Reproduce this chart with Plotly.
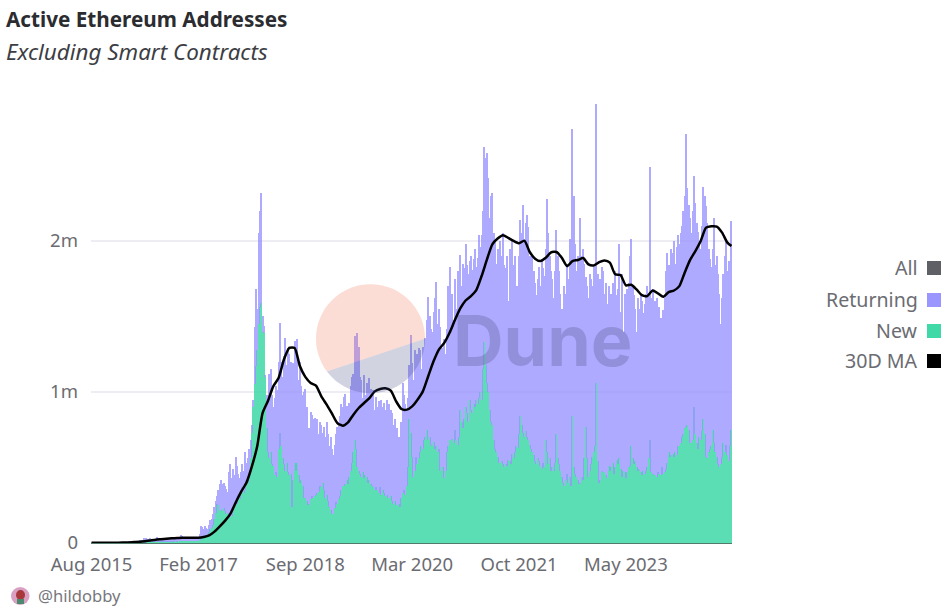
import numpy as np
import pandas as pd
import plotly.graph_objects as go

# weekly active addresses, thousands
all_addresses = [
    1,1,1,1,1,2,2,2,2,2, 2,3,3,3,3,4,4,3,4,4, 4,4,5,5,5,6,6,6,7,10,
    9,10,9,12,14,15,20,22,20,32, 18,34,24,20,30,22,20,24,22,40, 36,28,24,26,28,28,26,27,28,28,
    28,30,30,30,28,30,30,52,44,30, 30,30,32,32,30,30,30,30,32,34, 34,60,110,105,95,110,100,90,120,150,
    160,190,240,280,310,350,390,420,390,400, 380,360,340,470,520,430,490,450,570,510, 460,430,470,520,480,600,530,560,620,680,
    780,950,1430,1680,1550,2050,2200,2320,1500,1440, 1110,980,930,1120,1150,980,900,960,1040,1010, 1200,1460,1200,1100,1240,1360,1180,1290,1250,1200,
    730,1190,1340,1320,1350,1080,1200,1040,980,1000, 1020,900,730,760,870,850,820,830,790,820, 720,800,780,730,770,700,800,720,640,700,
    620,580,650,720,770,800,840,920,900,970, 990,910,880,930,1040,1100,1120,1370,1240,1390, 1300,1100,1080,960,1110,980,1060,950,1090,1020,
    920,1010,880,970,900,940,880,950,900,930, 880,950,820,920,880,860,780,820,700,760, 700,690,800,1060,980,920,880,960,1180,1380,
    1190,1080,1280,1130,1250,1290,1280,1150,1300,1270, 1360,1480,1630,1500,1420,1400,1530,1620,1730,1450, 1550,1430,1290,1190,1350,1250,1420,1700,1830,1620,
    1650,1480,1750,1550,1800,1780,1910,1700,1850,1820, 1980,1840,1780,1870,1900,1810,1880,1950,1830,1890, 2040,1960,2040,2200,2620,2550,2580,2420,2150,2300,
    2320,2050,2000,1850,1950,1780,2000,1900,2050,1840, 1820,1900,1600,1950,1770,2000,1840,1900,1700,1700, 1900,2140,2050,2240,2000,2120,2170,2090,1900,1850,
    1900,1800,1720,1640,1750,1830,1700,1880,1820,1770, 1950,2280,2050,1900,1800,1750,1620,1800,2070,1900, 1800,1650,1550,1430,1700,1650,1830,1750,2010,1700,
    2740,2300,1980,1800,1900,1850,2150,1900,1950,1850, 1760,1700,1620,1780,1750,1700,1830,1750,2910,1780, 1440,1750,1830,1800,1650,1720,1580,1700,1600,1650,
    1720,1580,1800,1640,1680,1980,1530,1780,1400,1650, 1500,1680,1720,1900,2010,1700,1640,1550,1400,1620, 1550,1650,1600,1520,1580,1650,1700,1640,2490,1620,
    1680,1560,1600,1620,1480,1560,1490,1400,1540,1620, 1800,1920,1840,1780,1950,1920,2000,1850,1960,2040, 1980,2050,2100,2200,2300,2710,2350,2240,2150,2050,
    2200,2430,2250,2120,2060,2000,1950,2100,2360,2300, 2230,2120,1950,1880,1830,1950,2150,1840,1900,1780, 1650,1450,1620,1780,1900,2010,1800,1870,1800,2130,
]
new_addresses = [
    0,0,0,0,0,1,1,1,1,1, 1,1,1,1,1,1,1,1,1,1, 1,2,2,2,2,2,2,2,3,3,
    3,4,4,5,5,5,6,7,6,8, 6,8,7,7,8,7,7,8,7,10, 9,8,8,8,8,9,8,8,9,9,
    9,9,9,10,9,10,10,12,10,10, 10,10,11,11,10,10,10,11,12,12, 13,20,35,35,40,45,50,60,75,90,
    100,120,160,200,260,250,220,220,210,230, 210,190,200,190,170,180,210,230,280,260, 300,290,330,370,330,350,420,400,450,560,
    730,900,1050,1170,1280,1450,1560,1590,1400,1390, 1100,760,600,560,600,520,510,450,470,440, 620,730,640,560,520,480,530,470,450,460,
    240,420,530,480,530,450,400,420,380,300, 300,280,250,260,290,310,300,310,320,330, 340,380,370,400,350,300,320,280,240,220,
    190,190,230,270,260,290,310,350,380,380, 390,420,390,440,480,530,600,680,620,500, 480,460,440,470,430,450,440,400,420,390,
    380,370,350,370,350,330,370,320,350,330, 310,320,300,300,310,280,260,280,250,250, 260,240,300,330,350,320,380,500,820,730,
    570,440,480,570,520,560,600,640,620,680, 700,750,680,700,650,640,670,620,640,600, 620,480,500,500,430,480,600,640,680,680,
    690,660,750,680,650,700,880,800,760,820, 900,860,800,950,880,860,920,900,950,920, 960,1000,950,1150,1330,1180,1060,1000,880,800,
    780,680,620,600,570,530,530,540,520,500, 520,510,550,540,520,590,560,600,640,630, 720,840,780,730,700,740,700,680,650,620,
    600,580,540,520,560,540,510,490,530,500, 680,600,520,560,480,500,480,530,720,560, 520,480,440,400,380,420,460,400,440,380,
    840,500,460,440,420,390,400,440,420,560, 770,560,440,480,520,570,600,640,1060,540, 400,420,480,470,470,450,430,510,480,500,
    530,460,500,550,520,560,490,440,480,470, 430,470,500,510,640,560,520,540,500,480, 490,470,450,480,460,480,500,560,680,470,
    460,450,450,440,470,460,450,500,460,470, 490,530,600,570,580,590,570,600,580,640, 640,660,700,720,760,770,780,750,660,660,
    680,900,720,660,620,700,680,740,820,720, 570,560,600,620,640,750,660,600,570,520, 500,520,570,660,600,650,580,540,640,750,
]
# 30D MA, thousands, read every 4th week plus the last one
ma_30d = [
    1,1,1,1,2,2,3,4,6,8, 12,17,22,25,28,31,33,35,35,35, 35,40,50,75,110,148,195,270,340,400,
    507,640,860,940,1037,1093,1215,1292,1292,1170, 1100,1060,1042,971,916,856,794,777,799,850,
    894,927,960,1004,1020,1024,1009,938,887,883, 905,949,1004,1104,1203,1281,1325,1392,1476,1553,
    1606,1635,1675,1768,1878,1978,2016,2038,2020,2000, 1985,2002,1927,1883,1867,1889,1925,1927,1889,1834,
    1867,1874,1887,1845,1838,1860,1871,1856,1779,1774, 1706,1710,1679,1641,1635,1672,1653,1630,1661,1672,
    1701,1790,1873,1933,2000,2088,2097,2095,2055,1989, 1967,
]
tick_labels = ['Aug 2015', 'Feb 2017', 'Sep 2018', 'Mar 2020', 'Oct 2021', 'May 2023']
y_ticks = [0, 1000, 2000]
y_labels = ['0', '1m', '2m']
legend_items = ['All', 'Returning', 'New', '30D MA']
legend_colors = ['#5f6066', '#9b95ff', '#3fd9a8', '#000000']

assert len(all_addresses) == len(new_addresses) == 480

weeks = pd.date_range('2015-08-03', periods=480, freq='7D')
ma_weeks = list(weeks[::4]) + [weeks[-1]]
returning = np.array(all_addresses) - np.array(new_addresses)

# plot area in page pixels
L, R, T, B = 91, 732, 104, 543
FONT = 'Noto Sans'
GREY = '#6b6c72'


def px(x):
    return (x - L) / (R - L)


def py(y):
    return (B - y) / (B - T)


def arc_path(cx, cy, r, a0, a1):
    # closed circular segment in paper coords, angles in screen degrees
    t = np.radians(np.linspace(a0, a1, 60))
    pts = [f'{px(cx + r * np.cos(a)):.5f},{py(cy + r * np.sin(a)):.5f}' for a in t]
    return 'M' + ' L'.join(pts) + ' Z'


fig = go.Figure()
week_ms = 7 * 24 * 3600 * 1000

fig.add_trace(go.Bar(x=weeks, y=new_addresses, name='New', width=week_ms * 0.8,
                     marker=dict(color='#3fd9a8', line_width=0), opacity=0.85))
fig.add_trace(go.Bar(x=weeks, y=returning, name='Returning', width=week_ms * 0.8,
                     marker=dict(color='#9b95ff', line_width=0), opacity=0.8))
fig.add_trace(go.Scatter(x=ma_weeks, y=ma_30d, name='30D MA', mode='lines',
                         line=dict(color='#000000', width=2.5, shape='spline', smoothing=0.6)))

shapes = [
    # watermark
    dict(type='path', xref='paper', yref='paper', layer='above', line_width=0,
         fillcolor='rgba(243,120,90,0.25)', path=arc_path(370.5, 338.7, 54.5, 143, 360)),
    dict(type='path', xref='paper', yref='paper', layer='above', line_width=0,
         fillcolor='rgba(60,65,125,0.23)', path=arc_path(370.5, 338.7, 54.5, 0, 143)),
    # avatar
    dict(type='circle', xref='paper', yref='paper', line_width=0, fillcolor='#d9a0c4',
         x0=px(11), x1=px(29.5), y0=py(605), y1=py(587)),
    dict(type='circle', xref='paper', yref='paper', line_width=0, fillcolor='#a8383c',
         x0=px(16), x1=px(25), y0=py(600), y1=py(590)),
    dict(type='rect', xref='paper', yref='paper', line_width=0, fillcolor='#4c8a70',
         x0=px(17), x1=px(24), y0=py(604), y1=py(599)),
]
annotations = [
    dict(text='<b>Active Ethereum Addresses</b>', x=px(4), y=py(19), xanchor='left', yanchor='middle',
         font=dict(size=20.7, color='#2b2c30', family=FONT)),
    dict(text='<i>Excluding Smart Contracts</i>', x=px(4), y=py(52), xanchor='left', yanchor='middle',
         font=dict(size=22.4, color='#3d3e44', family=FONT)),
    dict(text='<b>Dune</b>', x=px(542), y=py(340), xanchor='center', yanchor='middle',
         font=dict(size=70, color='rgba(60,60,100,0.23)', family='Inter')),
    dict(text='@hildobby', x=px(36), y=py(595), xanchor='left', yanchor='middle',
         font=dict(size=16.6, color='#77787e', family=FONT)),
]

# legend sits right of the plot with the swatch after the text
legend_y = [267, 299, 330, 360]
for name, colour, y in zip(legend_items, legend_colors, legend_y):
    annotations.append(dict(text=name, x=px(920.5), y=py(y), xanchor='right', yanchor='middle',
                            font=dict(size=19.6, color=GREY, family=FONT)))
    shapes.append(dict(type='rect', xref='paper', yref='paper', line=dict(color=colour, width=3),
                       fillcolor=colour, x0=px(928.5), x1=px(939.5), y0=py(y + 6.5), y1=py(y - 4.5)))

for a in annotations:
    a.update(xref='paper', yref='paper', showarrow=False)

fig.update_layout(
    width=949,
    height=616,
    margin=dict(l=L, r=949 - R, t=T, b=616 - B, autoexpand=False),
    template='plotly_white',
    paper_bgcolor='white',
    plot_bgcolor='white',
    barmode='stack',
    bargap=0,
    showlegend=False,
    font=dict(family=FONT, color=GREY, size=18),
    shapes=shapes,
    annotations=annotations,
)
fig.update_xaxes(
    range=[weeks[0] - pd.Timedelta(days=3), weeks[-1] + pd.Timedelta(days=3)],
    tickvals=list(weeks[::80]),
    ticktext=tick_labels,
    tickangle=0,
    showgrid=False,
    zeroline=False,
    showline=True,
    linecolor='rgba(40,90,70,0.8)',
    linewidth=1,
    ticks='',
    ticklabelstandoff=5,
    tickfont=dict(size=18.5, color=GREY),
)
fig.update_yaxes(
    range=[0, 2907],
    tickvals=y_ticks,
    ticktext=y_labels,
    showgrid=True,
    gridcolor='#eeedf4',
    gridwidth=1.5,
    zeroline=False,
    showline=False,
    ticks='',
    ticklabelstandoff=12,
    tickfont=dict(size=18.5, color=GREY),
)

fig.write_html("out.html", config=dict(displayModeBar=False),
               post_script="document.body.style.margin='0';")
